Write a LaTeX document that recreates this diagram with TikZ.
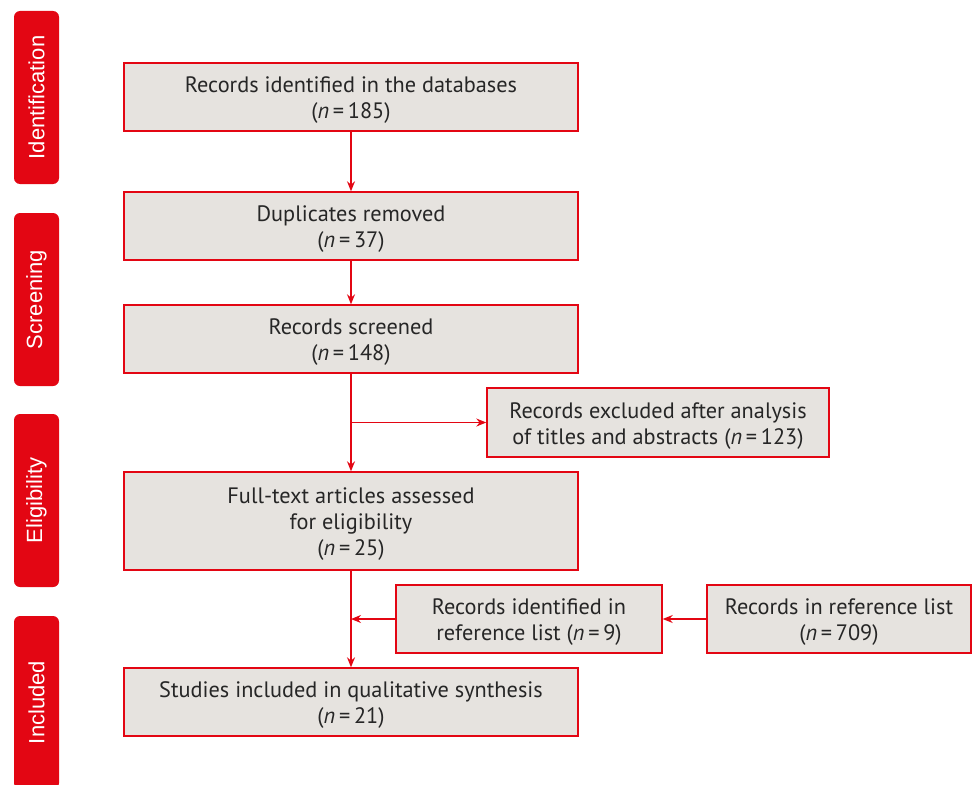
\documentclass[tikz,border=0pt]{standalone}
\usepackage{fontspec}
\setmainfont{PT Sans}
\newfontfamily\sidefont{Liberation Sans}
\usetikzlibrary{arrows.meta}
\definecolor{pred}{HTML}{E30613}
\definecolor{pfill}{HTML}{E6E3DF}
\definecolor{ptext}{HTML}{262626}
\newcommand{\nn}[1]{(\textit{n}\,=\,#1)}
\newcommand{\tp}{\rule{0pt}{22.5pt}}
\begin{document}
\begin{tikzpicture}[x=1pt,y=-1pt,
  flowbox/.style={draw=pred,fill=pfill,line width=1.4pt,text=ptext,align=center,
    inner sep=0pt,font=\fontsize{22.3}{26}\selectfont},
  sidebar/.style={fill=pred,rounded corners=6pt,rotate=90,minimum width=173pt,
    minimum height=45pt,inner sep=0pt,text=white,font=\sidefont\fontsize{22}{26}\selectfont},
  arr/.style={draw=pred,line width=1.2pt,-{Stealth[length=10pt,width=8pt]}}]
\useasboundingbox (0,0) rectangle (976,784);
% side bars
\node[sidebar] (sid) at (36.5,97.5) {Identification};
\node[sidebar] (sscr) at (36.5,299.5) {Screening};
\node[sidebar] (selig) at (36.5,500.5) {Eligibility};
\begin{scope}
\clip (0,0) rectangle (976,784);
\node[sidebar] (sinc) at (36.5,702.5) {Included};
\end{scope}
% main boxes
\node[flowbox,minimum width=454pt,minimum height=68pt] (b1) at (351,97) {\tp Records identified in the databases\\\nn{185}};
\node[flowbox,minimum width=454pt,minimum height=68pt] (b2) at (351,226) {\tp Duplicates removed\\\nn{37}};
\node[flowbox,minimum width=454pt,minimum height=68pt] (b3) at (351,339) {\tp Records screened\\\nn{148}};
\node[flowbox,minimum width=342pt,minimum height=69pt] (ex) at (658,422.5) {\tp Records excluded after analysis\\of titles and abstracts \nn{123}};
\node[flowbox,minimum width=454pt,minimum height=98pt] (b4) at (351,521) {\tp Full-text articles assessed\\for eligibility\\\nn{25}};
\node[flowbox,minimum width=266pt,minimum height=68pt] (r1) at (529,619) {\tp Records identified in\\reference list \nn{9}};
\node[flowbox,minimum width=264pt,minimum height=68pt] (r2) at (839,619) {\tp Records in reference list\\\nn{709}};
\node[flowbox,minimum width=454pt,minimum height=68pt] (b5) at (351,702) {\tp Studies included in qualitative synthesis\\\nn{21}};
% connectors
\draw[arr] (b1.south) -- (b2.north);
\draw[arr] (b2.south) -- (b3.north);
\draw[arr] (b3.south) -- (b4.north);
\draw[arr] (b3.south |- ex.west) -- (ex.west);
\draw[arr] (b4.south) -- (b5.north);
\draw[arr] (r1.west) -- (b4.south |- r1.west);
\draw[arr] (r2.west) -- (r1.east);
\end{tikzpicture}
\end{document}
